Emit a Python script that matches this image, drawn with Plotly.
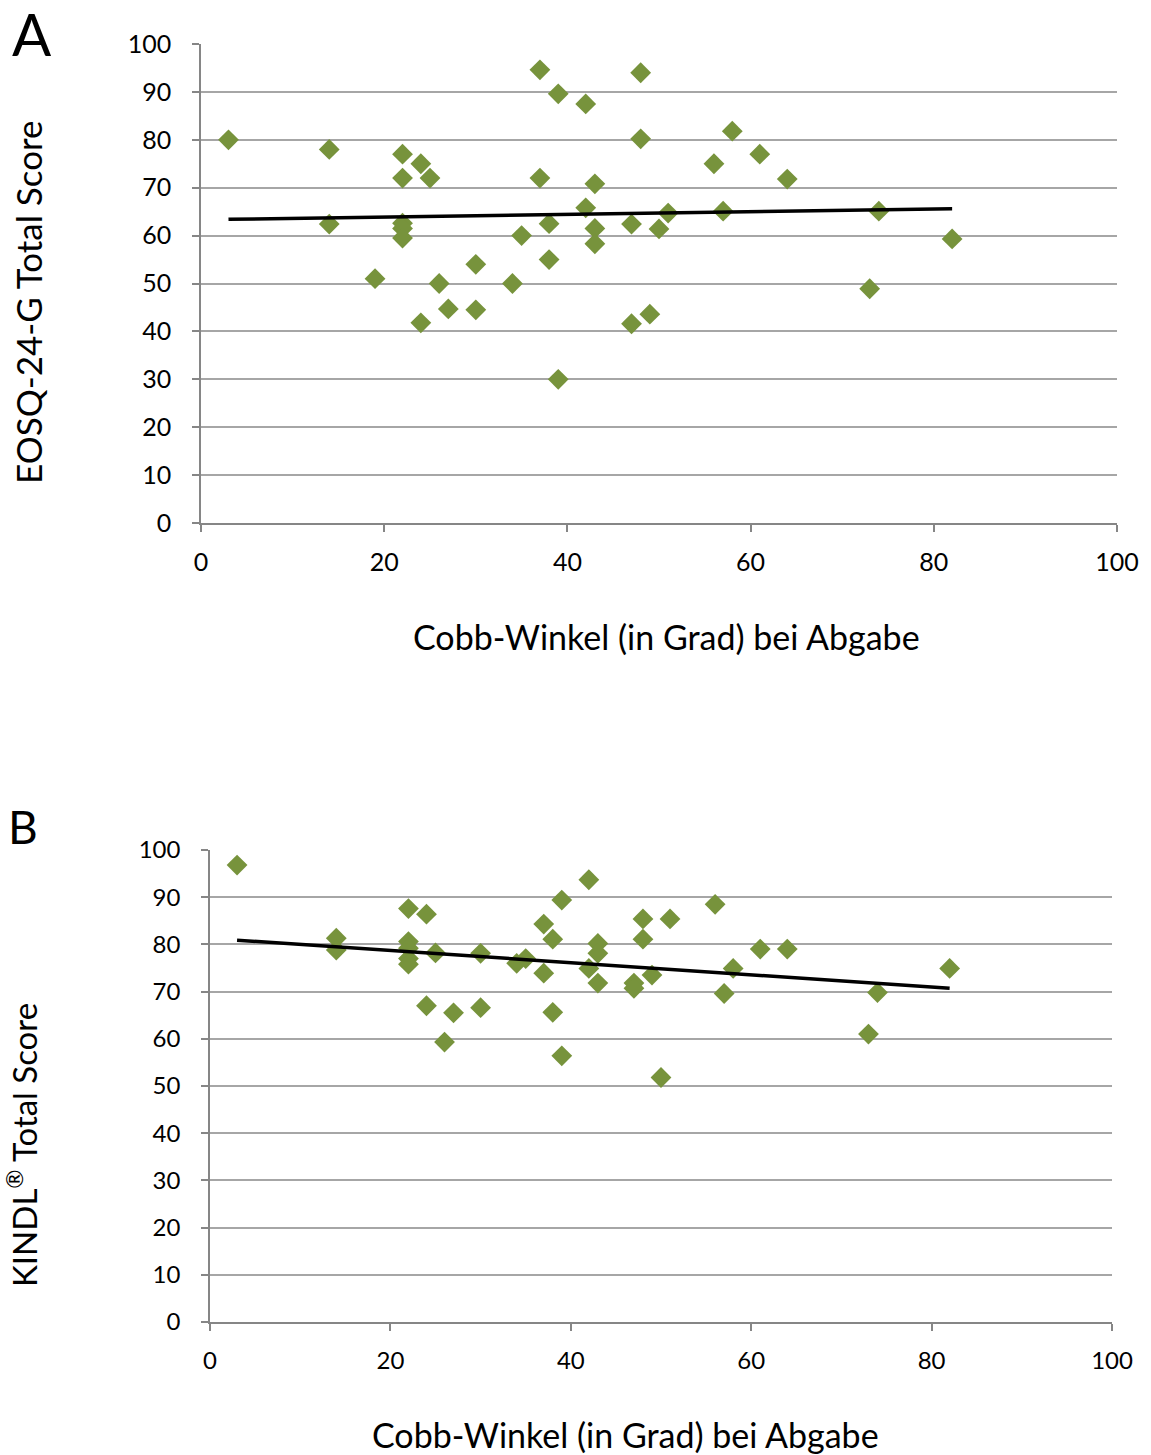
import plotly.graph_objects as go

W, H = 1151, 1455

# Panel A data: Cobb angle vs EOSQ-24-G total score
a_cobb = [3, 14, 14, 19, 22, 22, 22, 22, 22, 24, 25, 24, 26, 27, 30, 30, 34, 35, 37, 37, 38, 38,
          39, 39, 42, 42, 43, 43, 43, 47, 47, 48, 48, 49, 50, 51, 56, 57, 58, 61, 64, 73, 74, 82]
a_score = [80, 78, 62.4, 51, 77, 72, 62.6, 61.5, 59.5, 75, 72, 41.8, 50, 44.7, 54, 44.5, 50, 60,
           94.6, 72, 55, 62.5, 89.6, 30, 87.5, 65.8, 70.8, 61.5, 58.3, 62.4, 41.6, 94, 80.2, 43.6,
           61.4, 64.7, 75, 65.1, 81.8, 77, 71.8, 48.9, 65.1, 59.3]
a_trend_x = [3, 82]
a_trend_y = [63.4, 65.6]

# Panel B data: Cobb angle vs KINDL total score
b_cobb = [3, 14, 14, 22, 22, 22, 22, 22, 24, 24, 25, 26, 27, 30, 30, 34, 35, 37, 37, 38, 38,
          39, 39, 42, 42, 43, 43, 43, 47, 47, 48, 48, 49, 50, 51, 56, 57, 58, 61, 64, 73, 74, 82]
b_score = [96.8, 81.3, 78.8, 87.6, 80.6, 79.2, 77.0, 75.8, 86.4, 67.0, 78.2, 59.3, 65.5, 78.1, 66.6,
           76.0, 77.0, 84.3, 73.9, 81.1, 65.6, 89.4, 56.4, 93.7, 74.9, 80.2, 78.1, 71.8, 71.8, 70.7,
           85.4, 81.1, 73.5, 51.8, 85.4, 88.5, 69.6, 74.9, 79.0, 79.0, 61.0, 69.8, 74.9]
b_trend_x = [3, 82]
b_trend_y = [80.9, 70.7]

x_ticks = [0, 20, 40, 60, 80, 100]
y_ticks = [0, 10, 20, 30, 40, 50, 60, 70, 80, 90, 100]

x_title = "Cobb-Winkel (in Grad) bei Abgabe"
a_y_title = "EOSQ-24-G Total Score"
b_y_title = "KINDL<sup>®</sup> Total Score"

GREEN = "#77933C"
GRID = "#a6a6a6"
AXIS = "#868686"
FONT = "Lato"

fig = go.Figure()
fig.add_trace(go.Scatter(x=a_cobb, y=a_score, mode="markers", xaxis="x", yaxis="y",
                         marker=dict(symbol="diamond", size=16, color=GREEN, line=dict(width=0)),
                         showlegend=False, cliponaxis=False))
fig.add_trace(go.Scatter(x=a_trend_x, y=a_trend_y, mode="lines", xaxis="x", yaxis="y",
                         line=dict(color="black", width=3.5), showlegend=False))
fig.add_trace(go.Scatter(x=b_cobb, y=b_score, mode="markers", xaxis="x2", yaxis="y2",
                         marker=dict(symbol="diamond", size=16, color=GREEN, line=dict(width=0)),
                         showlegend=False, cliponaxis=False))
fig.add_trace(go.Scatter(x=b_trend_x, y=b_trend_y, mode="lines", xaxis="x2", yaxis="y2",
                         line=dict(color="black", width=3.5), showlegend=False))

def px_x(p):
    return p / W

def px_y(p):
    return 1 - p / H

def xax(size):
    return dict(range=[0, 100], tickvals=x_ticks, showgrid=False, zeroline=False, automargin=False,
                showline=True, linecolor=AXIS, linewidth=1.5, ticks="outside", ticklen=7,
                tickcolor=AXIS, tickwidth=1.5, ticklabelstandoff=9,
                tickfont=dict(family=FONT, size=size, color="black"))

def yax(size):
    return dict(range=[0, 100], tickvals=y_ticks, showgrid=True, gridcolor=GRID, gridwidth=1.5,
                zeroline=False, showline=True, linecolor=AXIS, linewidth=1.5, ticks="outside",
                automargin=False, ticklen=7, tickcolor=AXIS, tickwidth=1.5, ticklabelstandoff=16,
                tickfont=dict(family=FONT, size=size, color="black"))

fig.update_layout(
    width=W, height=H, margin=dict(l=0, r=0, t=0, b=0, autoexpand=False),
    plot_bgcolor="white", paper_bgcolor="white",
    xaxis=dict(domain=[px_x(201), px_x(1117)], anchor="y", **xax(25)),
    yaxis=dict(domain=[px_y(523), px_y(44)], anchor="x", **yax(25)),
    xaxis2=dict(domain=[px_x(210), px_x(1112)], anchor="y2", **xax(24)),
    yaxis2=dict(domain=[px_y(1322), px_y(850)], anchor="x2", **yax(24)),
    font=dict(family=FONT, color="black"),
)

ann = [
    dict(text="A", x=px_x(32), y=px_y(33), font=dict(size=58)),
    dict(text="B", x=px_x(23), y=px_y(826), font=dict(size=46)),
    dict(text=x_title, x=px_x(666), y=px_y(636), font=dict(size=34)),
    dict(text=x_title, x=px_x(625), y=px_y(1434), font=dict(size=34)),
    dict(text=a_y_title, x=px_x(28), y=px_y(302), font=dict(size=35), textangle=-90),
    dict(text=b_y_title, x=px_x(22), y=px_y(1145), font=dict(size=33), textangle=-90),
]
for a in ann:
    fig.add_annotation(xref="paper", yref="paper", xanchor="center", yanchor="middle",
                       showarrow=False, **a)

fig.write_html("out.html", config={"displayModeBar": False},
               post_script="document.body.style.margin='0px';")
